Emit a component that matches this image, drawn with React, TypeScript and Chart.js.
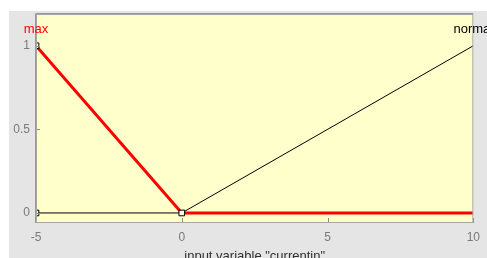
import { useEffect, useRef } from "react";
import { Chart, registerables } from "chart.js";

Chart.register(...registerables);

const xMin = -5;
const xMax = 10;
const yMin = -0.06;
const yMax = 1.19;
const xTicks = [-5, 0, 5, 10];
const yTicks = [0, 0.5, 1];
const yTickLabels = ["0", "0.5", "1"];
const maxX = [-5, 0, 10];
const maxY = [1, 0, 0];
const normalX = [-5, 0, 10];
const normalY = [0, 0, 1];
const handleX = [-5, -5, 0];
const handleY = [1, 0, 0];
const mfNames = ["max", "normal"];
const mfLabelX = [-5, 10];
const xTitle = 'input variable "currentin"';

const FONT = "'Liberation Sans', Arial, sans-serif";

const decorPlugin = {
  id: "decor",
  beforeDraw(chart: any) {
    const { ctx, chartArea: a, width, height } = chart;
    ctx.save();
    ctx.fillStyle = "#ffffff";
    ctx.fillRect(0, 0, width, height);
    ctx.fillStyle = "#e5e5e5";
    ctx.fillRect(9, 11, width - 9, height - 11);
    ctx.fillStyle = "#ffffcc";
    ctx.fillRect(a.left, a.top, a.right - a.left, a.bottom - a.top);
    ctx.restore();
  },
  afterDraw(chart: any) {
    const { ctx, chartArea: a, scales } = chart;
    const xs = scales.x;
    const ys = scales.y;
    ctx.save();
    // inward tick marks
    ctx.strokeStyle = "#8c8c8c";
    ctx.lineWidth = 1;
    ctx.beginPath();
    xTicks.forEach((v) => {
      const px = Math.round(xs.getPixelForValue(v)) + 0.5;
      ctx.moveTo(px, a.bottom);
      ctx.lineTo(px, a.bottom - 5);
    });
    yTicks.forEach((v) => {
      const py = Math.round(ys.getPixelForValue(v)) + 0.5;
      ctx.moveTo(a.left, py);
      ctx.lineTo(a.left + 4, py);
    });
    ctx.stroke();
    // box
    ctx.strokeStyle = "#a6a6a6";
    ctx.strokeRect(a.left + 0.5, a.top + 0.5, a.right - a.left - 1, a.bottom - a.top - 1);
    ctx.strokeStyle = "#9a9a9a";
    ctx.beginPath();
    ctx.moveTo(a.left - 0.5, a.bottom);
    ctx.lineTo(a.left - 0.5, a.top - 0.5);
    ctx.lineTo(a.right, a.top - 0.5);
    ctx.stroke();
    // MF labels
    ctx.font = `13px ${FONT}`;
    ctx.textAlign = "center";
    ctx.textBaseline = "middle";
    const ly = ys.getPixelForValue(1) - 16;
    ctx.fillStyle = "#ff0000";
    ctx.fillText(mfNames[0], xs.getPixelForValue(mfLabelX[0]), ly);
    ctx.fillStyle = "#000000";
    ctx.fillText(mfNames[1], xs.getPixelForValue(mfLabelX[1]), ly);
    ctx.restore();
  },
};

export default function App() {
  const ref = useRef<HTMLCanvasElement>(null);
  useEffect(() => {
    const canvas = ref.current!;
    const chart = new Chart(canvas, {
      type: "line",
      data: {
        datasets: [
          {
            label: "handles",
            data: handleX.map((x, i) => ({ x, y: handleY[i] })),
            showLine: false,
            pointStyle: "rect",
            pointRadius: 4,
            pointBorderWidth: 1,
            pointBorderColor: "#000000",
            pointBackgroundColor: "#ffffe6",
            order: 0,
            clip: 0,
          },
          {
            label: mfNames[0],
            data: maxX.map((x, i) => ({ x, y: maxY[i] })),
            borderColor: "#ff0000",
            borderWidth: 3,
            pointRadius: 0,
            tension: 0,
            order: 1,
            clip: 0,
          },
          {
            label: mfNames[1],
            data: normalX.map((x, i) => ({ x, y: normalY[i] })),
            borderColor: "#000000",
            borderWidth: 1,
            pointRadius: 0,
            tension: 0,
            order: 2,
            clip: 0,
          },
        ],
      },
      options: {
        animation: false,
        responsive: false,
        events: [],
        layout: { padding: { left: 0, top: 14, right: 13, bottom: 0 } },
        plugins: { legend: { display: false }, tooltip: { enabled: false } },
        scales: {
          x: {
            type: "linear",
            min: xMin,
            max: xMax,
            afterBuildTicks: (s: any) => {
              s.ticks = xTicks.map((v) => ({ value: v }));
            },
            afterFit: (s: any) => {
              s.height = 35;
            },
            grid: { display: false, drawTicks: false },
            border: { display: false },
            ticks: {
              padding: 7,
              color: "#7a7a7a",
              font: { family: FONT, size: 12 },
              maxRotation: 0,
              autoSkip: false,
            },
            title: {
              display: true,
              text: xTitle,
              color: "#303030",
              font: { family: FONT, size: 13 },
              padding: { top: 0, bottom: -6 },
            },
          },
          y: {
            type: "linear",
            min: yMin,
            max: yMax,
            afterBuildTicks: (s: any) => {
              s.ticks = yTicks.map((v) => ({ value: v }));
            },
            afterFit: (s: any) => {
              s.width = 36;
            },
            grid: { display: false, drawTicks: false },
            border: { display: false },
            ticks: {
              padding: 6,
              color: "#7a7a7a",
              font: { family: FONT, size: 12 },
              autoSkip: false,
              callback: (v: any) => {
                const i = yTicks.indexOf(Number(v));
                return i >= 0 ? yTickLabels[i] : "";
              },
            },
          },
        },
      },
      plugins: [decorPlugin],
    });
    return () => chart.destroy();
  }, []);
  return (
    <div style={{ position: "absolute", left: 0, top: 0, width: 487, height: 258 }}>
      <canvas ref={ref} width={487} height={258} style={{ display: "block" }} />
    </div>
  );
}
